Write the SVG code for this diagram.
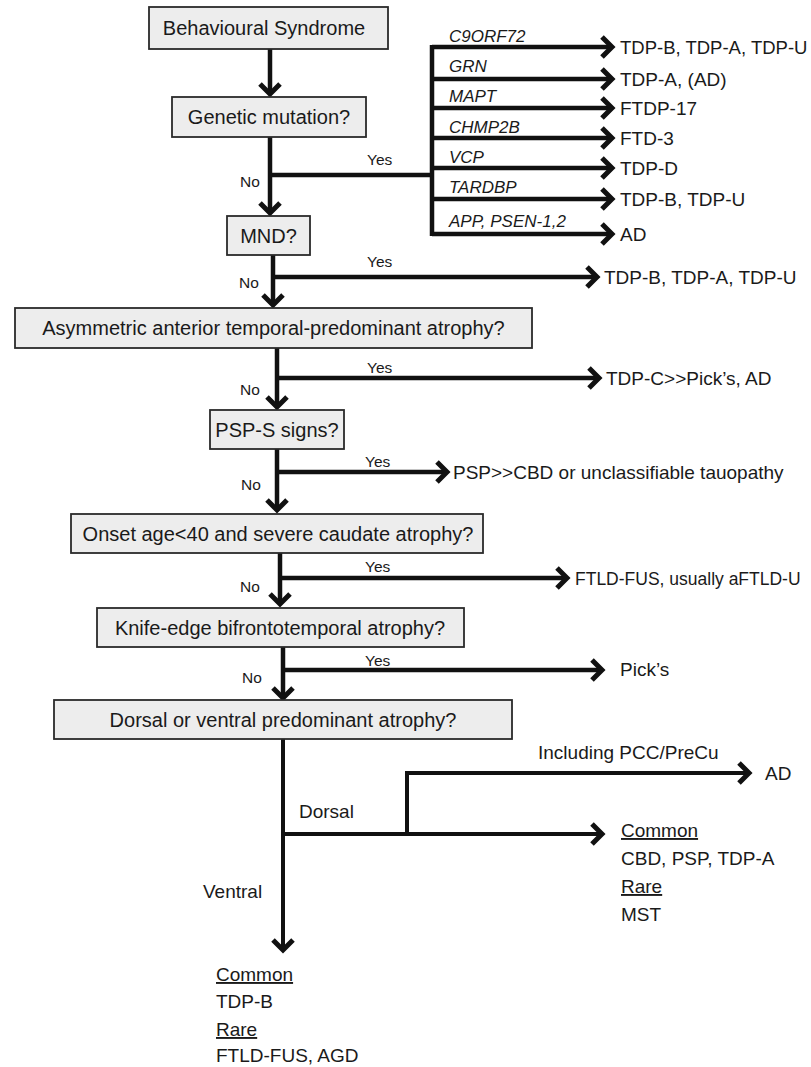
<svg xmlns="http://www.w3.org/2000/svg" width="811" height="1067" viewBox="0 0 811 1067">
<style>
  .box { fill: #ededed; stroke: #2a2a2a; stroke-width: 1.8; }
  .bt { font-family: "Liberation Sans", Arial, sans-serif; font-size: 20px; fill: #1a1a1a; text-anchor: middle; }
  .yn { font-family: "Liberation Sans", Arial, sans-serif; font-size: 15.5px; fill: #1a1a1a; }
  .gene { font-family: "Liberation Sans", Arial, sans-serif; font-size: 17px; font-style: italic; fill: #1a1a1a; }
  .res { font-family: "Liberation Sans", Arial, sans-serif; font-size: 19px; fill: #1a1a1a; }
  .ul { text-decoration: underline; }
  .c { fill: none; stroke: #111; stroke-width: 4.5; }
  .ca { fill: none; stroke: #111; stroke-width: 4.5; marker-end: url(#arr); }
  .cb { fill: none; stroke: #111; stroke-width: 4; }
  .cba { fill: none; stroke: #111; stroke-width: 4; marker-end: url(#arr); }
</style>
<defs>
  <marker id="arr" markerUnits="userSpaceOnUse" markerWidth="30" markerHeight="30" viewBox="-15 -15 30 30" refX="0" refY="0" orient="auto">
    <polyline points="-9,-10 1,0 -9,10" fill="none" stroke="#111" stroke-width="5" stroke-linejoin="miter"/>
  </marker>
</defs>
<rect width="811" height="1067" fill="#ffffff"/>

<g id="connectors">
  <path class="ca" d="M270,49 V93"/>
  <path class="ca" d="M270,137 V212"/>
  <path class="c" d="M270,175 H432"/>
  <path class="c" d="M432,45 V236"/>
  <path class="ca" d="M432,47 H611"/>
  <path class="ca" d="M432,79 H611"/>
  <path class="ca" d="M432,108 H611"/>
  <path class="ca" d="M432,138 H611"/>
  <path class="ca" d="M432,168 H611"/>
  <path class="ca" d="M432,199 H611"/>
  <path class="ca" d="M432,234 H611"/>
  <path class="ca" d="M273,255 V304"/>
  <path class="ca" d="M273,277 H596"/>
  <path class="ca" d="M277,348 V406"/>
  <path class="ca" d="M277,378 H598"/>
  <path class="ca" d="M277,449 V509"/>
  <path class="ca" d="M277,472 H446"/>
  <path class="ca" d="M280,553 V603"/>
  <path class="ca" d="M280,578 H566"/>
  <path class="ca" d="M283,647 V697"/>
  <path class="ca" d="M283,670 H601"/>
  <path class="cba" d="M283,739 V949"/>
  <path class="cba" d="M283,834 H601"/>
  <path class="cba" d="M407,836 V773 H748"/>

  <text class="yn" x="367" y="165">Yes</text>
  <text class="yn" x="240" y="187">No</text>
  <text class="yn" x="367" y="267">Yes</text>
  <text class="yn" x="239" y="288">No</text>
  <text class="yn" x="367" y="373">Yes</text>
  <text class="yn" x="240" y="395">No</text>
  <text class="yn" x="365" y="467">Yes</text>
  <text class="yn" x="241" y="490">No</text>
  <text class="yn" x="365" y="572">Yes</text>
  <text class="yn" x="240" y="592">No</text>
  <text class="yn" x="365" y="666">Yes</text>
  <text class="yn" x="242" y="683">No</text>

  <text class="gene" x="449" y="42">C9ORF72</text>
  <text class="gene" x="449" y="72">GRN</text>
  <text class="gene" x="449" y="102">MAPT</text>
  <text class="gene" x="449" y="133">CHMP2B</text>
  <text class="gene" x="449" y="163">VCP</text>
  <text class="gene" x="449" y="193">TARDBP</text>
  <text class="gene" x="449" y="227">APP, PSEN-1,2</text>

  <text class="res" x="299" y="818">Dorsal</text>
  <text class="res" x="203" y="898">Ventral</text>
  <text class="res" x="538" y="759">Including PCC/PreCu</text>
</g>

<g id="n-behavioural">
  <rect class="box" x="149" y="7" width="239" height="42"/>
  <text class="bt" x="264" y="35">Behavioural Syndrome</text>
</g>
<g id="n-genetic">
  <rect class="box" x="172" y="97" width="194" height="40"/>
  <text class="bt" x="269" y="124">Genetic mutation?</text>
</g>
<g id="n-mnd">
  <rect class="box" x="227" y="216" width="83" height="39"/>
  <text class="bt" x="268.5" y="242.5">MND?</text>
</g>
<g id="n-asym">
  <rect class="box" x="15" y="308" width="517" height="40"/>
  <text class="bt" x="273.5" y="335">Asymmetric anterior temporal-predominant atrophy?</text>
</g>
<g id="n-psp">
  <rect class="box" x="210" y="410" width="134" height="39"/>
  <text class="bt" x="277" y="436.5">PSP-S signs?</text>
</g>
<g id="n-onset">
  <rect class="box" x="71" y="514" width="412" height="39"/>
  <text class="bt" x="278" y="540.5">Onset age&lt;40 and severe caudate atrophy?</text>
</g>
<g id="n-knife">
  <rect class="box" x="97" y="608" width="367" height="39"/>
  <text class="bt" x="280" y="634.5">Knife-edge bifrontotemporal atrophy?</text>
</g>
<g id="n-dorsalventral">
  <rect class="box" x="54" y="700" width="458" height="39"/>
  <text class="bt" x="283" y="726.5">Dorsal or ventral predominant atrophy?</text>
</g>

<g id="r-c9orf72"><text class="res" x="620" y="54" style="font-size:18.5px">TDP-B, TDP-A, TDP-U</text></g>
<g id="r-grn"><text class="res" x="620" y="86">TDP-A, (AD)</text></g>
<g id="r-mapt"><text class="res" x="620" y="115">FTDP-17</text></g>
<g id="r-chmp2b"><text class="res" x="620" y="145">FTD-3</text></g>
<g id="r-vcp"><text class="res" x="620" y="175">TDP-D</text></g>
<g id="r-tardbp"><text class="res" x="620" y="206">TDP-B, TDP-U</text></g>
<g id="r-app"><text class="res" x="620" y="241">AD</text></g>
<g id="r-mnd"><text class="res" x="604" y="284">TDP-B, TDP-A, TDP-U</text></g>
<g id="r-asym"><text class="res" x="606" y="385">TDP-C&gt;&gt;Pick’s, AD</text></g>
<g id="r-psp"><text class="res" x="453" y="479">PSP&gt;&gt;CBD or unclassifiable tauopathy</text></g>
<g id="r-onset"><text class="res" x="575" y="585" style="font-size:17.5px">FTLD-FUS, usually aFTLD-U</text></g>
<g id="r-knife"><text class="res" x="620" y="676">Pick’s</text></g>
<g id="r-pcc"><text class="res" x="765" y="780">AD</text></g>
<g id="r-dorsal">
  <text class="res ul" x="621" y="837">Common</text>
  <text class="res" x="621" y="865">CBD, PSP, TDP-A</text>
  <text class="res ul" x="621" y="893">Rare</text>
  <text class="res" x="621" y="921">MST</text>
</g>
<g id="r-ventral">
  <text class="res ul" x="216" y="981">Common</text>
  <text class="res" x="216" y="1008">TDP-B</text>
  <text class="res ul" x="216" y="1036">Rare</text>
  <text class="res" x="216" y="1062">FTLD-FUS, AGD</text>
</g>
</svg>
